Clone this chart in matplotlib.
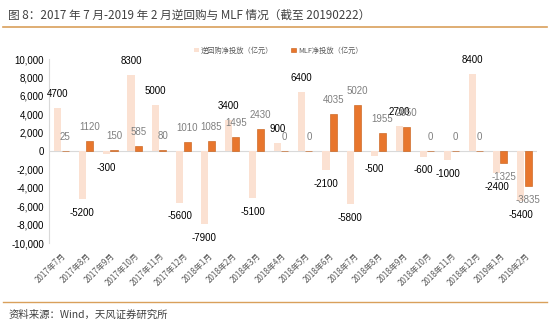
import numpy as np
import matplotlib
matplotlib.use('Agg')
from matplotlib import pyplot as plt
from matplotlib.ticker import FuncFormatter

plt.rcParams['font.family'] = ['Liberation Sans', 'Noto Sans CJK SC', 'DejaVu Sans']

# 数据
months = ['2017年7月', '2017年8月', '2017年9月', '2017年10月', '2017年11月', '2017年12月',
          '2018年1月', '2018年2月', '2018年3月', '2018年4月', '2018年5月', '2018年6月',
          '2018年7月', '2018年8月', '2018年9月', '2018年10月', '2018年11月', '2018年12月',
          '2019年1月', '2019年2月']
reverse_repo = [4700, -5200, -300, 8300, 5000, -5600, -7900, 3400, -5100, 900,
                6400, -2100, -5800, -500, 2700, -600, -1000, 8400, -2400, -5400]
mlf = [25, 1120, 150, 585, 80, 1010, 1085, 1495, 2430, 0,
       0, 4035, 5020, 1955, 2650, 0, 0, 0, -1325, -3835]

c_rr = '#FBE1D2'
c_mlf = '#E8762D'
cjk = ['Noto Sans CJK SC', 'DejaVu Sans']

fig = plt.figure(figsize=(5.5, 3.26), dpi=100)
ax = fig.add_axes([0.0898, 0.2546, 0.8862, 0.5644])

x = np.arange(len(months))
w = 0.29
ax.bar(x - 0.15, reverse_repo, width=w, color=c_rr, label='逆回购净投放（亿元）', zorder=2)
ax.bar(x + 0.15, mlf, width=w, color=c_mlf, edgecolor='#C55A11', linewidth=0.4,
       label='MLF净投放（亿元）', zorder=2)

# 数据标签
for i in range(len(months)):
    v = reverse_repo[i]
    off = 10 if v >= 0 else -10
    ax.annotate(str(v), (x[i] - 0.15, v), xytext=(0, off), textcoords='offset points',
                ha='center', va='center', fontsize=7, color='#000000')
    v = mlf[i]
    off = 10 if v >= 0 else -10
    ax.annotate(str(v), (x[i] + 0.15, v), xytext=(0, off), textcoords='offset points',
                ha='center', va='center', fontsize=7, color='#7F7F7F')

ax.set_xlim(-0.5, len(months) - 0.5)
ax.set_ylim(-10000, 10000)
ax.set_yticks(range(-10000, 10001, 2000))
ax.yaxis.set_major_formatter(FuncFormatter(lambda v, p: '{:,.0f}'.format(v)))
ax.tick_params(axis='y', labelsize=7, length=0, pad=4)
ax.axhline(0, color='#D9D9D9', linewidth=0.8, zorder=1)

ax.set_xticks(x)
ax.set_xticklabels(months, rotation=45, ha='right', rotation_mode='anchor',
                   fontsize=5.8, color='#595959', family=cjk)
ax.tick_params(axis='x', length=0, pad=6)

for s in ['top', 'right', 'bottom']:
    ax.spines[s].set_visible(False)
ax.spines['left'].set_color('#D9D9D9')
ax.spines['left'].set_linewidth(0.8)

leg = ax.legend(loc='lower center', bbox_to_anchor=(0.47, 1.0), ncol=2, frameon=False,
                handlelength=0.6, handleheight=0.6, handletextpad=0.3,
                columnspacing=2.5, borderaxespad=0.2,
                prop={'family': cjk, 'size': 5.2})
for t in leg.get_texts():
    t.set_color('#595959')

# 标题与来源
fig.text(0.015, 0.952, '图 8：2017 年 7 月-2019 年 2 月逆回购与 MLF 情况（截至 20190222）',
         fontsize=8.4, color='#404040', va='center', family=cjk)
fig.add_artist(plt.Line2D([0.005, 0.995], [0.917, 0.917], color='#D9A05B', linewidth=1.2))
fig.add_artist(plt.Line2D([0.005, 0.995], [0.074, 0.074], color='#D9A05B', linewidth=1.0))
fig.text(0.015, 0.035, '资料来源：Wind，天风证券研究所', fontsize=7.5, color='#404040',
         va='center', family=cjk)

fig.savefig('out.png', dpi=100)
